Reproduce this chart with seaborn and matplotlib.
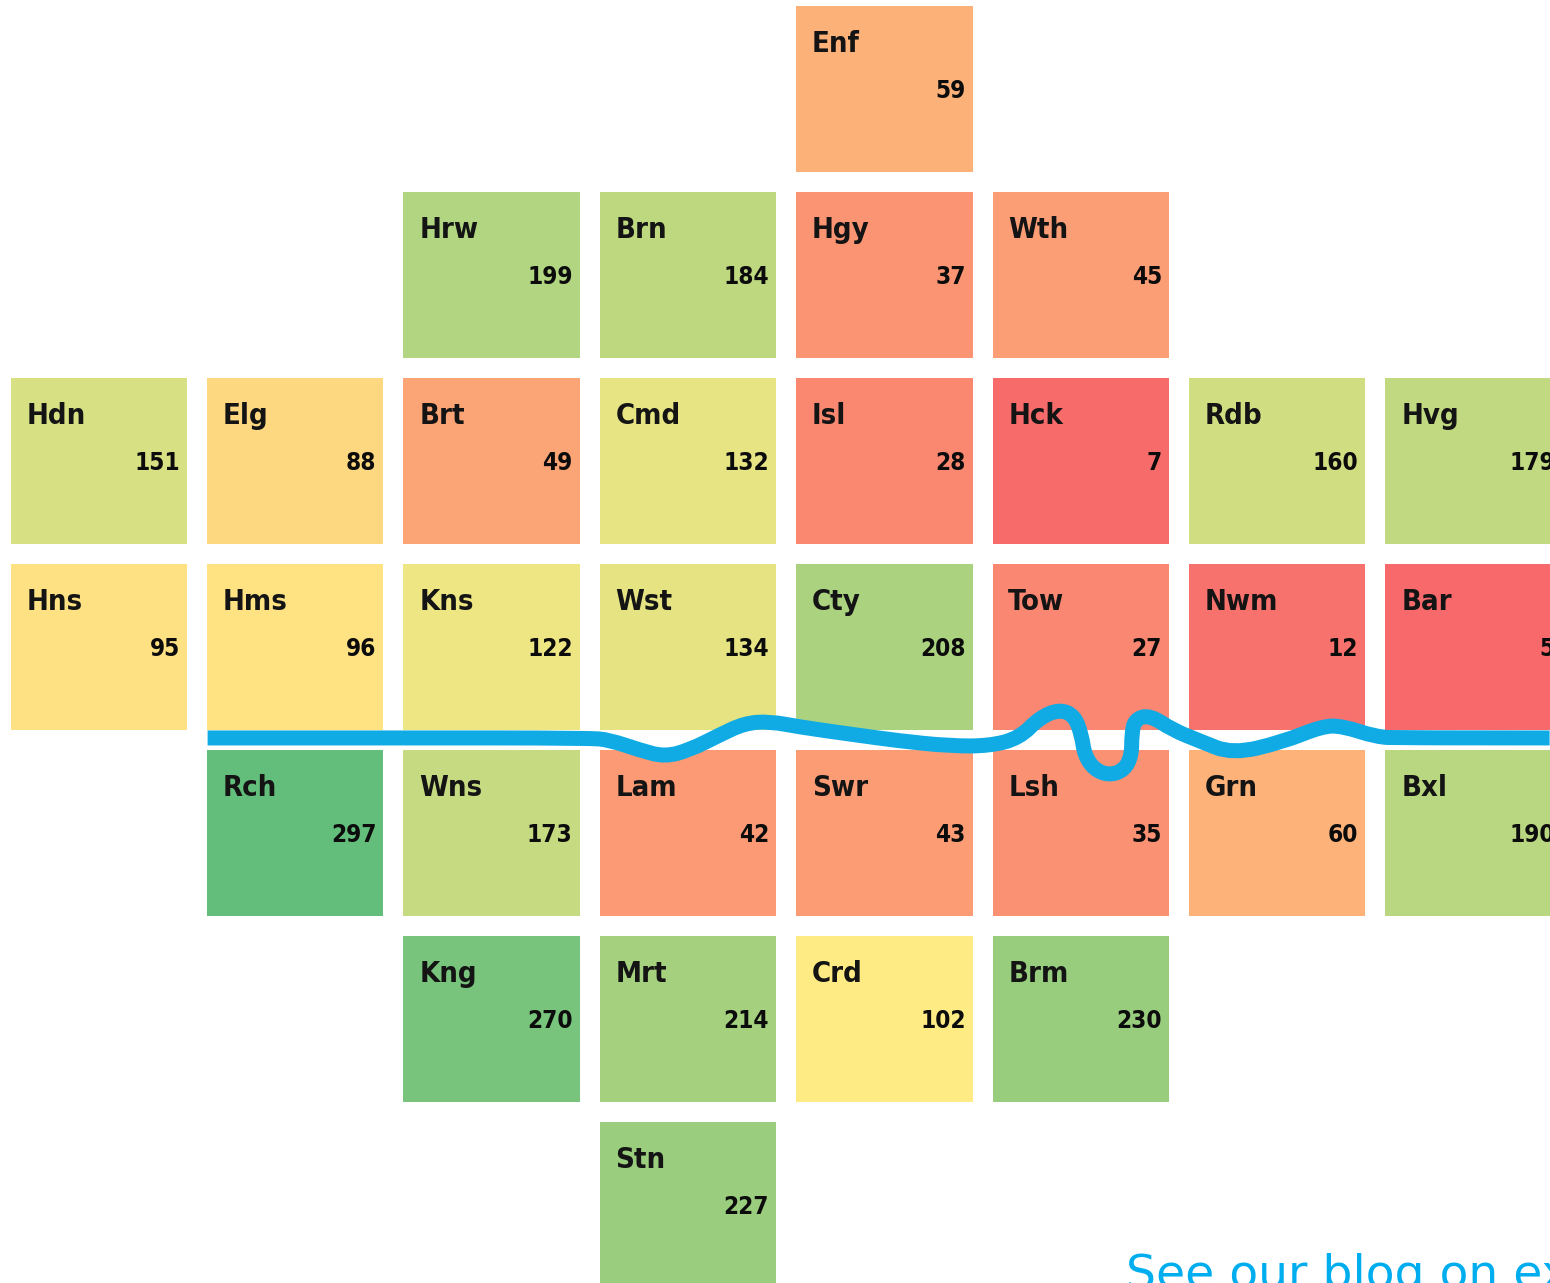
import numpy as np
import pandas as pd
import seaborn as sns
import matplotlib
matplotlib.use("Agg")
import matplotlib.pyplot as plt
from matplotlib.colors import LinearSegmentedColormap, TwoSlopeNorm
from matplotlib.path import Path
from matplotlib.patches import PathPatch

names = [
    ["", "", "", "", "Enf", "", "", ""],
    ["", "", "Hrw", "Brn", "Hgy", "Wth", "", ""],
    ["Hdn", "Elg", "Brt", "Cmd", "Isl", "Hck", "Rdb", "Hvg"],
    ["Hns", "Hms", "Kns", "Wst", "Cty", "Tow", "Nwm", "Bar"],
    ["", "Rch", "Wns", "Lam", "Swr", "Lsh", "Grn", "Bxl"],
    ["", "", "Kng", "Mrt", "Crd", "Brm", "", ""],
    ["", "", "", "Stn", "", "", "", ""],
]
N = np.nan
values = [
    [N, N, N, N, 59, N, N, N],
    [N, N, 199, 184, 37, 45, N, N],
    [151, 88, 49, 132, 28, 7, 160, 179],
    [95, 96, 122, 134, 208, 27, 12, 5],
    [N, 297, 173, 42, 43, 35, 60, 190],
    [N, N, 270, 214, 102, 230, N, N],
    [N, N, N, 227, N, N, N, N],
]
river_x = [1.054, 2.032, 2.999, 3.101, 3.254, 3.381, 3.508, 3.661, 3.788, 3.915, 4.068,
           4.323, 4.577, 4.832, 5.036, 5.188, 5.290, 5.392, 5.468, 5.504, 5.519, 5.570,
           5.647, 5.723, 5.759, 5.759, 5.774, 5.850, 5.968, 6.105, 6.273, 6.527, 6.731,
           6.833, 7.006, 7.123, 7.887]
river_y = [3.989, 3.989, 3.989, 4.000, 4.054, 4.090, 4.054, 3.973, 3.910, 3.900, 3.930,
           3.968, 4.005, 4.032, 4.032, 3.989, 3.880, 3.835, 3.870, 3.973, 4.081, 4.160,
           4.190, 4.160, 4.081, 3.973, 3.890, 3.865, 3.946, 4.005, 4.075, 4.011, 3.925,
           3.925, 3.984, 3.989, 3.989]
blog_text = "See our blog on ex"

W, H = 1550, 1283
sns.set_theme(style="white")
plt.rcParams["font.family"] = ["DejaVu Sans"]

fig = plt.figure(figsize=(W / 100, H / 100), dpi=100, facecolor="white")
ax = fig.add_axes([0.6 / W, (H - 1298) / H, 8 * 196.4 / W, 7 * 186 / H])

df = pd.DataFrame(values)
cmap = LinearSegmentedColormap.from_list("excel", ["#F8696B", "#FFEB84", "#63BE7B"])
sns.heatmap(df, ax=ax, cmap=cmap, norm=TwoSlopeNorm(vmin=5, vcenter=102, vmax=297),
            linewidths=14.3, linecolor="white", cbar=False,
            xticklabels=False, yticklabels=False, square=False)
ax.set_xlabel("")
ax.set_ylabel("")

for r, row in enumerate(names):
    for c, nm in enumerate(row):
        if not nm:
            continue
        ax.text(c + 0.131, r + 0.258, nm, fontsize=21, fontweight="bold", stretch="condensed",
                color="#141414", ha="left", va="center")
        ax.text(c + 0.913, r + 0.513, str(values[r][c]), fontsize=17.5, fontweight="bold",
                stretch="condensed", color="#0c0c0c", ha="right", va="center")

# River drawn as a smooth curve: listed points act as control points
pts = np.column_stack([river_x, river_y])
verts = [pts[0]]
codes = [Path.MOVETO]
for i in range(1, len(pts) - 1):
    end = pts[i + 1] if i == len(pts) - 2 else (pts[i] + pts[i + 1]) / 2
    verts += [pts[i], end]
    codes += [Path.CURVE3, Path.CURVE3]
ax.add_patch(PathPatch(Path(verts, codes), facecolor="none", edgecolor="#10ABE4", lw=10.8,
                       capstyle="butt", joinstyle="round", clip_on=False))

fig.text(1126 / W, (H - 1288) / H, blog_text, color="#00AEEF", fontsize=34,
         family="DejaVu Sans", ha="left", va="baseline")

fig.savefig("out.png", dpi=100, facecolor="white")
